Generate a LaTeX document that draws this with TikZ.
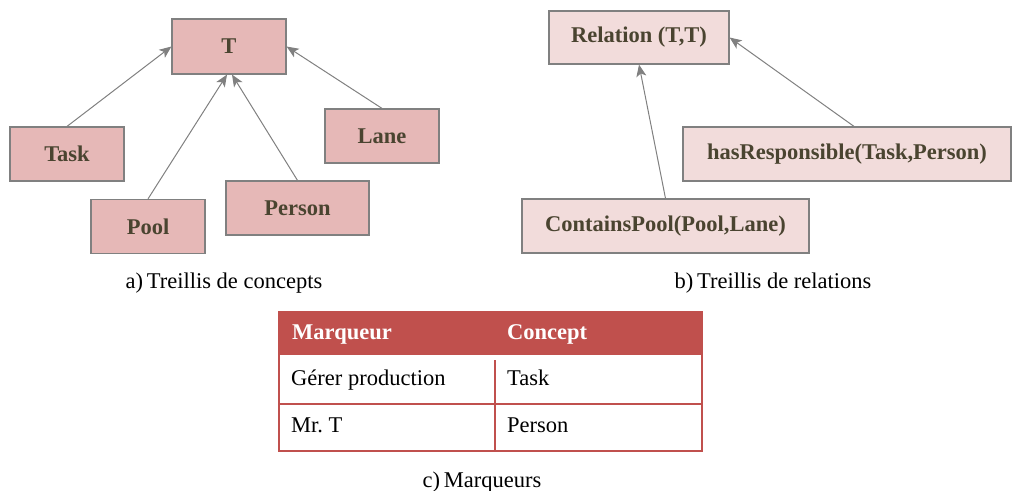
\documentclass[tikz,border=0pt]{standalone}
\usepackage{fontspec}
\setmainfont{Liberation Serif}
\usetikzlibrary{arrows.meta}
\definecolor{boxA}{HTML}{E6B8B7}
\definecolor{boxB}{HTML}{F2DCDB}
\definecolor{edgegray}{HTML}{808080}
\definecolor{labtxt}{HTML}{4A4430}
\definecolor{tabred}{HTML}{C0504D}
\tikzset{
  concept/.style={draw=edgegray, line width=1.2pt, fill=boxA, inner sep=0pt,
    text=labtxt, font=\fontsize{22.5}{26}\selectfont\bfseries},
  relbox/.style={draw=edgegray, line width=1.2pt, fill=boxB, inner sep=0pt,
    text=labtxt, font=\fontsize{22.5}{26}\selectfont\bfseries},
  arr/.style={draw=edgegray, line width=1pt, -{Stealth[length=12pt,width=10pt,inset=3pt]}},
  caption/.style={anchor=base, inner sep=0pt, font=\fontsize{22.5}{26}\selectfont, text=black},
  cell/.style={anchor=base west, inner sep=0pt, font=\fontsize{22.5}{26}\selectfont},
  headcell/.style={anchor=base west, inner sep=0pt, text=white, font=\fontsize{22.5}{26}\selectfont\bfseries},
  tabline/.style={draw=tabred, line width=2pt}
}
\begin{document}
\begin{tikzpicture}[x=1pt,y=-1pt]
\useasboundingbox (0,0) rectangle (1012,490);
% a) concepts
\node[concept, minimum width=114, minimum height=55] (T) at (229,46.5) {T};
\node[concept, minimum width=114, minimum height=54] (task) at (67,154) {Task};
\node[concept, minimum width=114, minimum height=54] (pool) at (148,226.5) {Pool};
\node[concept, minimum width=143, minimum height=54] (person) at (297.5,208) {Person};
\node[concept, minimum width=114, minimum height=54] (lane) at (382,136) {Lane};
\draw[arr] (task.north) -- (T.west);
\draw[arr] (pool.north) -- ([xshift=-2]T.south);
\draw[arr] (person.north) -- ([xshift=3]T.south);
\draw[arr] (lane.north) -- (T.east);
\node[caption] (capa) at (224,288) {a)\,Treillis de concepts};
% b) relations
\node[relbox, minimum width=180, minimum height=53] (rel) at (639,37.5) {Relation (T,T)};
\node[relbox, minimum width=328, minimum height=54] (hasr) at (847,154) {hasResponsible(Task,Person)};
\node[relbox, minimum width=287, minimum height=54] (cpool) at (665.5,226) {ContainsPool(Pool,Lane)};
\draw[arr] (cpool.north) -- (rel.south);
\draw[arr] ([xshift=7]hasr.north) -- (rel.east);
\node[caption] (capb) at (773,288) {b)\,Treillis de relations};
% c) table
\fill[tabred] (279,312) rectangle (702,355);
\draw[tabline] (279,312) rectangle (702,451);
\draw[tabline] (279,404) -- (702,404);
\draw[tabline] (495,360) -- (495,451);
\node[headcell] (h1) at (292,339) {Marqueur};
\node[headcell] (h2) at (507,339) {Concept};
\node[cell] (c11) at (291,385) {Gérer production};
\node[cell] (c12) at (507,385) {Task};
\node[cell] (c21) at (291,432) {Mr.\ T};
\node[cell] (c22) at (507,432) {Person};
\node[caption] (capc) at (482,487) {c)\,Marqueurs};
\end{tikzpicture}
\end{document}
